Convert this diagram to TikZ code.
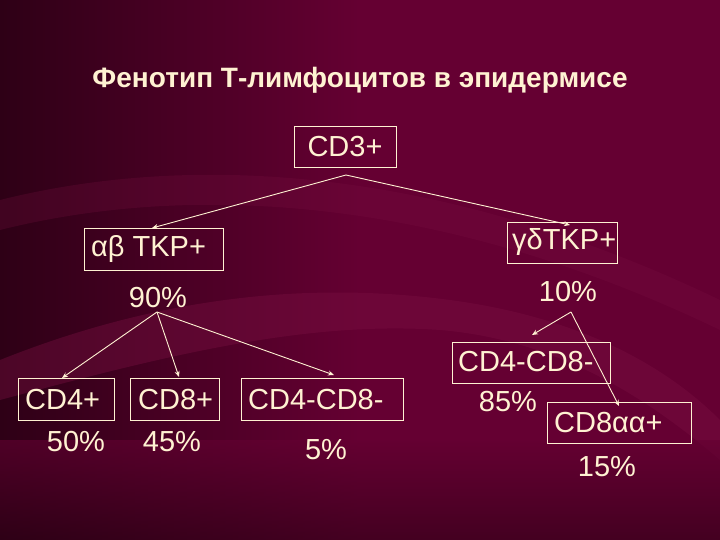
\documentclass[tikz,border=0pt]{standalone}
\usepackage{fontspec}
\setmainfont{Liberation Sans}
\usetikzlibrary{arrows.meta}
\begin{document}
\begin{tikzpicture}[x=1pt,y=-1pt,
  txt/.style={text=cream,font=\fontsize{29}{32}\selectfont,inner sep=0pt},
  bx/.style={draw=cream,line width=0.7pt},
  arr/.style={draw=cream,line width=0.9pt,-{Stealth[length=6pt,width=5pt]}}]
\definecolor{cream}{HTML}{FFF2D2}
\definecolor{bgA}{HTML}{2E0016}
\definecolor{bgB}{HTML}{650032}
\definecolor{band}{HTML}{7A1042}
\useasboundingbox (0,0) rectangle (720,540);
\shade[left color=bgA,right color=bgB,middle color=bgB] (0,0) rectangle (720,540);
\fill[bgB,opacity=0.6] (360,0) rectangle (720,540);
\fill[band,opacity=0.4] (0,360) .. controls (150,300) and (300,280) .. (450,300) .. controls (600,320) and (680,380) .. (720,420) -- (720,460) .. controls (650,400) and (560,340) .. (440,330) .. controls (300,320) and (150,360) .. (0,400) -- cycle;
\fill[band,opacity=0.25] (0,200) .. controls (200,150) and (450,170) .. (720,300) -- (720,330) .. controls (450,200) and (200,180) .. (0,230) -- cycle;
\shade[top color=bgB,bottom color=bgA,opacity=0.6] (0,440) rectangle (720,540);
\node[text=cream,font=\bfseries\fontsize{28}{32}\selectfont] (title) at (360,80) {Фенотип Т-лимфоцитов в эпидермисе};
\draw[bx] (294,126) rectangle (396,167);
\node[txt] (cd3) at (345,147) {CD3+};
\draw[bx] (84,228) rectangle (223,270);
\node[txt,anchor=west] (ab) at (91,249) {αβ TKP+};
\draw[bx] (507,222) rectangle (617,263);
\node[txt,anchor=west] (gd) at (512,242) {γδTKP+};
\node[txt] (p90) at (158,298) {90\%};
\node[txt] (p10) at (568,292) {10\%};
\draw[bx] (18,378) rectangle (114,420);
\node[txt,anchor=west] (cd4) at (25,400) {CD4+};
\draw[bx] (130,378) rectangle (219,420);
\node[txt,anchor=west] (cd8) at (138,400) {CD8+};
\draw[bx] (241,378) rectangle (403,420);
\node[txt,anchor=west] (dn) at (248,400) {CD4-CD8-};
\draw[bx] (452,342) rectangle (610,383);
\node[txt,anchor=west] (dn2) at (458,362) {CD4-CD8-};
\node[txt] (p85) at (508,402) {85\%};
\draw[bx] (547,402) rectangle (691,443);
\node[txt,anchor=west] (caa) at (554,423) {CD8αα+};
\node[txt] (p50) at (76,442) {50\%};
\node[txt] (p45) at (172,442) {45\%};
\node[txt] (p5) at (326,450) {5\%};
\node[txt] (p15) at (607,467) {15\%};
\coordinate (s1) at (346,175);
\coordinate (t1) at (152,228);
\coordinate (t2) at (570,225);
\draw[arr] (s1) -- (t1);
\draw[arr] (s1) -- (t2);
\coordinate (s2) at (157,312);
\coordinate (t3) at (62,378);
\coordinate (t4) at (179,377);
\coordinate (t5) at (334,375);
\draw[arr] (s2) -- (t3);
\draw[arr] (s2) -- (t4);
\draw[arr] (s2) -- (t5);
\coordinate (s3) at (571,312);
\coordinate (t6) at (532,335);
\coordinate (t7) at (619,406);
\draw[arr] (s3) -- (t6);
\draw[arr] (s3) -- (t7);
\end{tikzpicture}
\end{document}
